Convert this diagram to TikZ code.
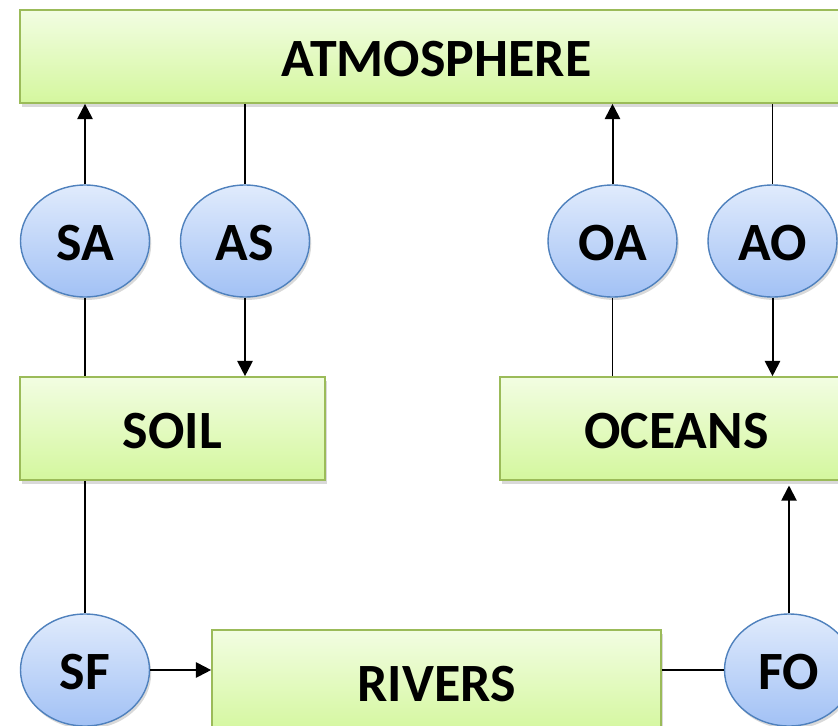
\documentclass[tikz,border=0pt]{standalone}
\usepackage{fontspec}
\setmainfont{Carlito}
\usetikzlibrary{shapes.geometric,arrows.meta,shadows}
\definecolor{boxtop}{RGB}{242,253,226}
\definecolor{boxbottom}{RGB}{212,247,158}
\definecolor{boxedge}{RGB}{155,187,89}
\definecolor{fluxtop}{RGB}{224,235,252}
\definecolor{fluxbottom}{RGB}{162,193,245}
\definecolor{fluxedge}{RGB}{79,129,189}

\begin{document}
\begin{tikzpicture}[
    x=0.03cm, y=-0.03cm,
    font=\fontsize{46}{50}\selectfont\bfseries,
    box/.style={rectangle, draw=boxedge, line width=1.4pt, top color=boxtop, bottom color=boxbottom,
        drop shadow={shadow xshift=2pt, shadow yshift=-3pt, opacity=0.3}, inner sep=0pt, minimum height=3.09cm,
        text height=1.2cm, text depth=0pt},
    flux/.style={ellipse, draw=fluxedge, line width=1.2pt, top color=fluxtop, bottom color=fluxbottom,
        drop shadow={shadow xshift=1.5pt, shadow yshift=-2.5pt, opacity=0.3}, inner sep=0pt, minimum width=3.87cm, minimum height=3.36cm,
        text height=1.14cm, text depth=0pt},
    link/.style={line width=1.4pt},
    arrow/.style={line width=1.7pt, -{Triangle[length=13pt, width=13pt]}}
]
\useasboundingbox (0,0) rectangle (838,725);
\clip (0,0) rectangle (838,725);

% Reservoirs
\node[box, minimum width=24.99cm, minimum height=2.79cm] (atm) at (436.5,56.5) {ATMOSPHERE};
\node[box, minimum width=9.15cm] (soil) at (172.5,428.5) {SOIL};
\node[box, minimum width=10.59cm] (oceans) at (676.5,428.5) {OCEANS};
\node[box, minimum width=13.47cm] (rivers) at (436.5,681.5) {RIVERS};

% Fluxes
\node[flux] (sa) at (85,241) {SA};
\node[flux] (as) at (245,241) {AS};
\node[flux] (oa) at (612.5,241) {OA};
\node[flux] (ao) at (772.5,241) {AO};
\node[flux] (sf) at (85,670) {SF};
\node[flux] (fo) at (789,670) {FO};

% Soil - atmosphere
\draw[link] (soil.north -| sa.south) -- (sa.south);
\draw[arrow] (sa.north) -- (sa.north |- atm.south);
\draw[link] (atm.south -| as.north) -- (as.north);
\draw[arrow] (as.south) -- (as.south |- soil.north);

% Oceans - atmosphere
\draw[link] (oceans.north -| oa.south) -- (oa.south);
\draw[arrow] (oa.north) -- (oa.north |- atm.south);
\draw[link] (atm.south -| ao.north) -- (ao.north);
\draw[arrow] (ao.south) -- (ao.south |- oceans.north);

% Soil - rivers - oceans
\draw[link] (soil.south -| sf.north) -- (sf.north);
\draw[arrow] (sf.east) -- (sf.east -| rivers.west);
\draw[link] (rivers.east |- fo.west) -- (fo.west);
\draw[arrow] (fo.north) -- ([yshift=-4pt]fo.north |- oceans.south);

\end{tikzpicture}
\end{document}
